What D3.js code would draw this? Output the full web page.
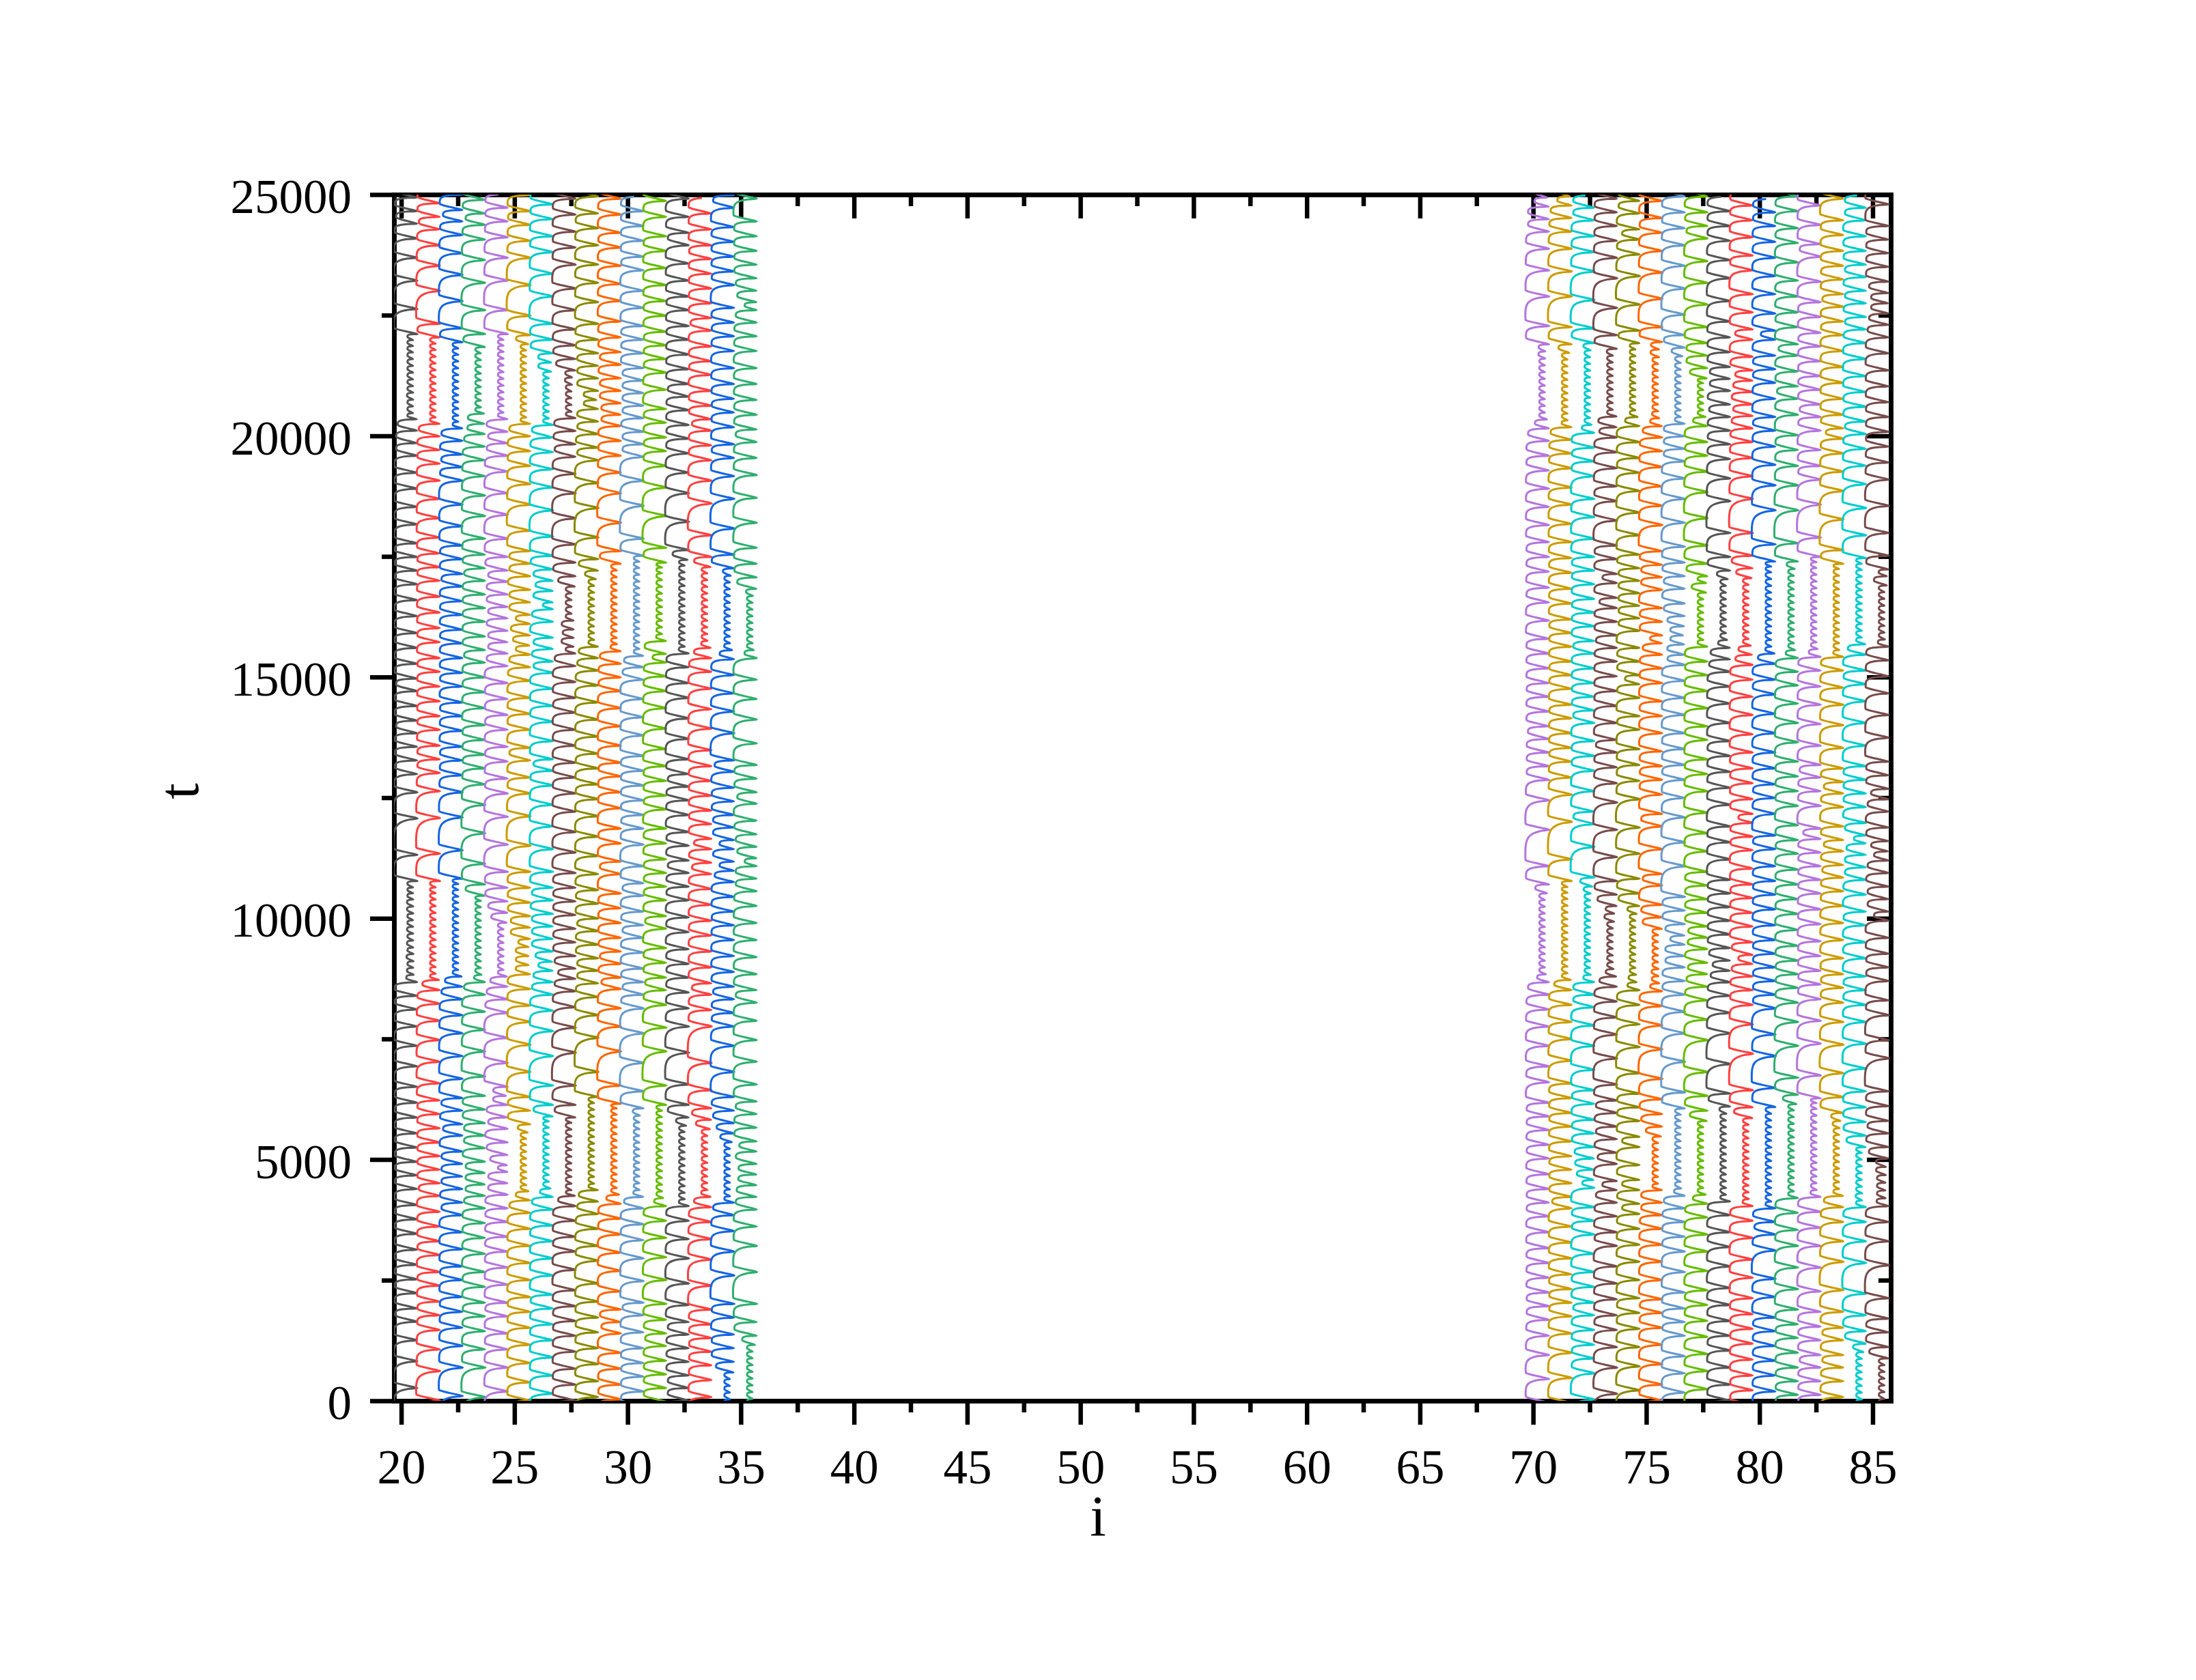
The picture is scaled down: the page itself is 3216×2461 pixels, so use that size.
<!DOCTYPE html>
<html>
<head>
<meta charset="utf-8">
<script src="https://cdnjs.cloudflare.com/ajax/libs/d3/7.8.5/d3.min.js"></script>
<style>
  html, body { margin: 0; background: #fff; }
  text { font-family: "Liberation Serif", serif; fill: #000; }
</style>
</head>
<body>
<script>
// x tick labels and y tick labels
var xTicks = [20,25,30,35,40,45,50,55,60,65,70,75,80,85];
var xMinor = [22.5,27.5,32.5,37.5,42.5,47.5,52.5,57.5,62.5,67.5,72.5,77.5,82.5];
var yTicks = [0,5000,10000,15000,20000,25000];
var yMinor = [2500,7500,12500,17500,22500];

var lineIds = [20,21,22,23,24,25,26,27,28,29,30,31,32,33,34,35,70,71,72,73,74,75,76,77,78,79,80,81,82,83,84,85];
var lineColors = ["#555555","#ff4040","#1565e0","#2fae6f","#b375dd","#cc9b00","#00cccc","#774b4b","#8a8a00","#ff6600","#6699cc","#66bb00","#555555","#ff4040","#1565e0","#2fae6f",
  "#b375dd","#cc9b00","#00cccc","#774b4b","#8a8a00","#ff6600","#6699cc","#66bb00","#555555","#ff4040","#1565e0","#2fae6f","#b375dd","#cc9b00","#00cccc","#774b4b"];

// t of every spike tip on each line (estimates)
var peaks20 = [265,821,1255,1641,1915,2231,2518,2820,3131,3461,3763,4060,4390,4673,4953,5250,5543,5873,6179,6509,6934,7358,7758,8111,8394,8677,8830,8975,9110,9260,9395,9540,9680,9825,9960,10100,10245,10390,10520,10640,10774,11316,12070,12612,12989,13272,13555,13837,14097,14403,14709,14969,15275,15605,15912,16265,16595,16925,17208,17491,17774,18165,18528,18905,19235,19588,19848,20107,20343,20470,20610,20750,20895,21030,21170,21310,21450,21590,21730,21860,21985,22110,22629,23218,23690,24090,24397,24656,24939];
var peaks21 = [6,618,1066,1467,1773,2056,2386,2669,3023,3306,3612,3918,4248,4508,4790,5071,5354,5647,5943,6226,6580,7028,7476,7876,8229,8511,8723,8850,8990,9130,9270,9410,9550,9690,9830,9970,10110,10250,10390,10520,10640,10774,11340,12080,12635,13012,13295,13578,13908,14191,14497,14804,15110,15393,15723,16015,16336,16666,16996,17279,17562,17891,18292,18693,19070,19423,19706,19989,20248,20380,20520,20660,20800,20940,21080,21220,21360,21500,21640,21780,21910,22040,22322,23006,23525,23949,24279,24538,24821];
var peaks22 = [100,689,1137,1514,1844,2151,2504,2787,3141,3494,3848,4107,4390,4649,4908,5166,5496,5731,6014,6274,6674,7146,7617,7993,8323,8582,8794,8930,9070,9200,9340,9480,9620,9760,9900,10040,10180,10320,10450,10590,10710,10821,11411,12093,12612,12965,13272,13555,13885,14191,14474,14804,15087,15393,15699,15982,16289,16572,16878,17137,17444,17727,18127,18575,19070,19350,19612,19895,20154,20290,20420,20560,20700,20840,20980,21120,21260,21400,21540,21680,21810,21940,22228,22794,23336,23784,24161,24444,24680,25000];
var peaks23 = [76,689,1066,1443,1750,2033,2363,2669,3046,3376,3683,3989,4248,4484,4720,4954,5236,5496,5755,6038,6321,6722,7240,7688,8064,8417,8677,8830,8970,9110,9250,9390,9530,9670,9810,9950,10090,10230,10360,10468,10703,11128,11764,12352,12777,13107,13390,13696,14002,14356,14686,14992,15299,15558,15841,16147,16430,16713,16996,17255,17538,17868,18339,18764,19164,19494,19777,20036,20250,20460,20590,20730,20870,21010,21150,21290,21430,21570,21710,21840,22110,22605,23171,23642,24067,24373,24609,24892];
var peaks24 = [194,689,1066,1396,1750,2033,2410,2763,3093,3400,3706,3989,4272,4508,4743,4883,5095,5354,5637,5873,6132,6321,6509,7005,7523,8040,8323,8582,8794,8930,9070,9210,9350,9490,9630,9770,9910,10114,10350,10633,10963,11528,12105,12588,12895,13248,13555,13908,14215,14545,14875,15228,15487,15723,15959,16218,16454,16713,16972,17208,17491,17868,18363,18811,19260,19588,19846,20083,20343,20480,20620,20760,20900,21040,21180,21320,21460,21600,21740,21870,21990,22110,22605,23218,23690,24114,24444,24727];
var peaks25 = [5,383,783,1161,1514,1844,2150,2504,2858,3211,3565,3895,4154,4343,4470,4610,4740,4880,5020,5160,5300,5430,5560,5731,6014,6297,6816,7381,7853,8190,8535,8841,9030,9218,9407,9572,9808,10044,10326,10633,10963,11505,12117,12588,12918,13272,13531,13908,14238,14568,14922,15204,15464,15653,15864,16100,16289,16548,16807,17090,17349,17609,18033,18575,19000,19376,19683,19989,20248,20380,20520,20660,20800,20940,21080,21220,21360,21500,21640,21770,21900,22087,22487,23124,23690,24043,24373,24656,24990];
var peaks26 = [147,524,901,1255,1585,1915,2198,2598,2952,3306,3635,3965,4225,4400,4540,4680,4820,4960,5100,5240,5380,5520,5660,5790,5896,6132,6533,7146,7664,8087,8417,8676,8912,9101,9313,9572,9831,10091,10373,10633,10963,11434,11906,12352,12753,13059,13295,13673,14073,14403,14757,15087,15322,15582,15817,16147,16406,16548,16784,16996,17232,17514,17915,18457,18929,19306,19660,19965,20225,20360,20500,20640,20780,20920,21050,21190,21330,21520,21710,21992,22322,22888,23360,23807,24137,24491,24797];
var peaks27 = [5,336,666,1019,1349,1655,1962,2292,2716,3093,3400,3730,4036,4248,4366,4500,4640,4780,4920,5060,5200,5340,5480,5620,5760,5873,6132,6533,7216,7735,8158,8488,8747,8959,9218,9501,9784,10067,10350,10633,10939,11363,11788,12211,12588,12918,13224,13578,13908,14262,14568,14898,15228,15487,15629,15814,15988,16172,16313,16454,16596,16737,16878,17090,17373,17750,18292,18811,19211,19565,19824,20100,20366,20500,20640,20780,20920,21060,21210,21356,21592,21875,22204,22605,23053,23548,23902,24232,24585,24915];
var peaks28 = [76,406,760,1090,1420,1726,2056,2433,2905,3211,3565,3871,4130,4366,4500,4640,4780,4920,5060,5190,5330,5470,5610,5750,5890,6030,6170,6297,6816,7523,7993,8370,8653,8912,9171,9454,9737,9996,10303,10586,10916,11293,11693,12117,12470,12777,13107,13413,13767,14120,14474,14827,15134,15393,15629,15770,15910,16050,16190,16330,16470,16610,16750,16890,17030,17208,17444,17892,18504,19023,19494,19753,20037,20295,20555,20743,20932,21191,21450,21710,21992,22322,22770,23171,23548,23949,24302,24609,24962];
var peaks29 = [30,336,666,995,1396,1632,1891,2268,2693,3070,3447,3777,4083,4272,4410,4550,4690,4830,4970,5110,5250,5390,5530,5670,5810,5930,6060,6156,6533,7240,7758,8134,8535,8771,9054,9313,9596,9902,10209,10515,10916,11175,11552,11858,12282,12612,12942,13224,13578,13979,14356,14709,14992,15275,15534,15680,15810,15950,16090,16230,16370,16510,16650,16790,16930,17070,17210,17349,17609,18198,18811,19235,19588,19895,20202,20437,20673,20932,21191,21474,21733,22040,22370,22794,23148,23525,23902,24208,24585,24915];
var peaks30 = [194,501,783,1090,1420,1773,2033,2481,2952,3329,3659,3989,4225,4370,4510,4650,4790,4930,5070,5210,5350,5490,5630,5770,5910,6061,6415,7004,7617,8134,8417,8676,8959,9289,9596,9855,10138,10468,10727,11081,11528,11858,12141,12447,12753,13059,13366,13790,14167,14545,14945,15204,15440,15580,15720,15860,16000,16140,16280,16420,16560,16700,16840,16980,17120,17260,17390,17514,17868,18551,19070,19565,19824,20083,20366,20625,20885,21144,21403,21710,21992,22276,22652,23006,23430,23713,24043,24349,24656];
var peaks31 = [265,548,831,1137,1396,1679,2009,2504,2975,3376,3730,4036,4201,4340,4480,4620,4760,4900,5040,5180,5320,5460,5600,5740,5880,6010,6132,6533,7240,7735,8205,8511,8771,9077,9384,9784,10044,10373,10656,10939,11222,11552,11858,12258,12541,12847,13154,13507,13932,14356,14709,15016,15299,15480,15747,15890,16030,16170,16310,16450,16590,16730,16870,17010,17150,17270,17373,17679,18339,18929,19376,19683,19965,20272,20555,20955,21309,21592,21875,22157,22487,22794,23124,23477,23831,24137,24538,24868];
var peaks32 = [5,265,524,807,1090,1373,1632,1986,2433,2952,3353,3730,4036,4178,4310,4450,4590,4730,4870,5010,5150,5290,5430,5570,5700,5873,6132,6556,7216,7758,8134,8464,8771,9054,9360,9714,10020,10373,10656,10939,11198,11505,11788,12141,12447,12729,12989,13295,13720,14144,14568,14875,15204,15487,15630,15770,15910,16050,16190,16330,16470,16610,16750,16890,17030,17170,17310,17430,17632,18221,18811,19235,19635,19942,20225,20531,20814,21073,21380,21686,21992,22276,22605,22888,23218,23572,23949,24208,24538,24915];
var peaks33 = [76,430,736,1019,1302,1585,1891,2386,2928,3353,3706,4013,4225,4370,4510,4650,4790,4930,5070,5210,5350,5490,5630,5826,6061,6438,7004,7758,8100,8417,8653,8983,9313,9643,9949,10279,10609,10916,11151,11434,11646,11953,12234,12541,12847,13154,13484,13932,14333,14757,15110,15393,15605,15750,15890,16030,16170,16310,16450,16590,16730,16870,17010,17150,17280,17491,17939,18599,19070,19494,19801,20107,20343,20625,20932,21262,21545,21851,22181,22440,22747,23053,23360,23666,23949,24279,24609];
var peaks34 = [30,170,310,450,590,807,1090,1373,1726,2009,2598,3093,3518,3848,4107,4240,4380,4520,4660,4800,4940,5080,5220,5360,5543,5755,6014,6297,6816,7358,7758,8040,8323,8582,8888,9218,9549,9855,10138,10444,10751,10986,11175,11434,11623,11882,12141,12423,12706,13036,13272,13837,14285,14662,15040,15370,15558,15700,15840,15980,16120,16260,16400,16540,16680,16820,16960,17100,17255,17538,18080,18693,19164,19541,19824,20178,20484,20767,21073,21403,21757,22063,22346,22652,23124,23407,23713,24020,24326,24727,24986];
var peaks35 = [40,180,320,460,600,740,880,1020,1160,1349,1632,2009,2669,3211,3612,3965,4225,4470,4690,4908,5166,5378,5661,5943,6203,6556,7028,7476,7876,8252,8511,8841,9195,9549,9902,10256,10562,10821,11081,11246,11481,11741,12023,12376,12612,12895,13178,13625,14120,14545,14945,15393,15560,15700,15840,15980,16120,16260,16400,16540,16680,16830,17066,17349,17679,18198,18716,19188,19541,19871,20131,20437,20743,21073,21403,21757,22063,22346,22605,22770,23006,23265,23548,23831,24137,24444,24915];
var peaks70 = [454,948,1349,1679,1962,2245,2551,2858,3164,3494,3824,4107,4390,4696,5023,5306,5612,5895,6178,6602,6932,7357,7757,8111,8417,8676,8840,8980,9120,9260,9400,9540,9680,9820,9960,10100,10240,10380,10520,10703,11081,11835,12447,12871,13154,13437,13718,13979,14285,14592,14875,15181,15487,15794,16171,16548,16854,17184,17491,17797,18151,18528,18905,19282,19588,19895,20154,20340,20480,20620,20760,20900,21040,21180,21320,21460,21600,21750,21898,22275,22888,23430,23878,24232,24491,24750,24939];
var peaks71 = [477,996,1396,1750,2033,2316,2622,2952,3282,3612,3989,4225,4508,4790,5070,5376,5683,5966,6273,6579,7050,7498,7851,8205,8511,8723,8860,9000,9140,9280,9420,9560,9700,9840,9980,10120,10260,10400,10530,10650,10774,11222,12000,12565,12918,13248,13531,13836,14144,14426,14757,15040,15322,15629,15912,16194,16524,16831,17161,17467,17797,18174,18575,18929,19329,19635,19918,20178,20320,20460,20600,20740,20880,21020,21160,21300,21440,21580,21720,21898,22252,22888,23407,23878,24232,24514,24774,24962];
var peaks72 = [29,571,878,1161,1467,1773,2033,2363,2669,3046,3447,3730,4013,4413,4578,4790,5020,5259,5542,5825,6155,6437,6861,7357,7781,8158,8417,8676,8830,8970,9110,9250,9390,9530,9670,9810,9950,10090,10230,10370,10510,10660,10845,11481,11953,12211,12635,13059,13366,13673,14049,14309,14592,14875,15181,15487,15747,16053,16336,16619,16925,17208,17491,17868,18316,18693,19164,19471,19753,20060,20230,20370,20510,20650,20790,20930,21070,21210,21350,21490,21630,21770,21922,22228,22817,23407,23807,24137,24467,24727];
var peaks73 = [147,689,1113,1467,1773,2103,2433,2787,3211,3494,3824,4107,4366,4555,4908,5141,5424,5683,5966,6225,6555,7097,7592,7946,8276,8582,8794,8950,9090,9230,9370,9510,9650,9790,9930,10100,10256,10491,10774,11269,11835,12400,12800,13130,13437,13696,14049,14403,14709,15016,15322,15605,15864,16147,16430,16642,16949,17137,17444,17726,18245,18646,18952,19329,19659,19965,20178,20400,20540,20680,20820,20960,21100,21240,21380,21520,21660,21804,22087,22652,23265,23690,24043,24349,24632,24915];
var peaks74 = [218,713,1113,1491,1821,2127,2504,2881,3235,3565,3871,4083,4366,4578,4885,5259,5471,5801,6084,6366,6791,7333,7804,8205,8511,8676,8830,8970,9110,9250,9390,9530,9670,9810,9950,10090,10256,10515,10821,11340,11882,12470,12848,13178,13507,13908,14191,14568,14851,15040,15322,15605,15959,16218,16477,16737,16996,17255,17538,17939,18410,18858,19235,19541,19871,20202,20390,20530,20670,20810,20950,21090,21230,21370,21510,21650,21790,21920,22181,22723,23312,23760,24067,24279,24609,24868];
var peaks75 = [5,336,760,1161,1514,1821,2103,2504,2881,3235,3565,3848,4107,4366,4500,4640,4780,4920,5060,5200,5340,5480,5683,5942,6249,6673,7286,7780,8181,8488,8653,8800,8950,9090,9230,9370,9510,9650,9784,10020,10279,10680,10916,11434,11905,12164,12565,12871,13154,13460,13836,14191,14497,14875,15181,15463,15699,15864,16147,16430,16807,17067,17326,17609,18151,18551,18952,19353,19683,19965,20201,20366,20510,20650,20790,20930,21070,21210,21350,21490,21630,21790,21945,22252,22841,23383,23831,24208,24514,24868];
var peaks76 = [170,571,925,1349,1632,1915,2245,2669,3093,3400,3706,3989,4248,4400,4540,4680,4820,4960,5100,5240,5380,5520,5660,5800,5930,6060,6390,7026,7616,8064,8417,8700,8983,9218,9454,9643,9879,10161,10444,11081,11576,12093,12494,12871,13178,13507,13836,14215,14568,14922,15252,15463,15676,15864,16053,16265,16524,16831,17090,17373,17703,18198,18693,19117,19470,19730,19989,20248,20390,20530,20670,20810,20950,21090,21230,21370,21510,21650,21828,22087,22511,23053,23525,23949,24302,24632,24962];
var peaks77 = [241,618,972,1326,1656,1985,2292,2693,3093,3447,3800,4083,4272,4410,4550,4690,4830,4970,5110,5250,5390,5530,5670,5800,6013,6319,6814,7474,7899,8299,8582,8841,9077,9360,9600,9831,10114,10397,10680,10963,11387,11764,12187,12635,12989,13295,13696,13979,14356,14709,15040,15322,15629,15770,15910,16050,16190,16330,16470,16610,16750,16949,17090,17349,17726,18292,18834,19259,19588,19871,20202,20390,20530,20670,20810,20950,21090,21191,21403,21662,21922,22252,22723,23171,23619,24090,24349,24632,24962];
var peaks78 = [5,336,689,1043,1349,1655,1986,2339,2787,3188,3494,3848,4130,4270,4410,4550,4690,4830,4970,5110,5250,5390,5530,5670,5810,5950,6100,6367,6980,7616,8040,8394,8676,8912,9124,9383,9666,9949,10232,10515,10798,11222,11576,11905,12353,12706,13036,13366,13673,14049,14450,14804,15110,15369,15605,15770,15910,16050,16190,16330,16470,16610,16750,16890,17030,17208,17491,17986,18646,19117,19518,19824,20107,20390,20649,20932,21180,21427,21733,22040,22370,22794,23265,23642,24043,24349,24656];
var peaks79 = [218,524,854,1184,1491,1797,2127,2551,2928,3376,3730,4036,4180,4320,4460,4600,4740,4880,5020,5160,5300,5440,5580,5720,5860,6084,6437,7192,7804,8205,8511,8794,9054,9242,9501,9831,10114,10421,10703,11033,11411,11693,11976,12164,12471,12800,13107,13437,13813,14215,14592,14945,15252,15463,15650,15790,15930,16070,16210,16350,16490,16630,16770,16910,17050,17255,17514,17986,18693,19164,19541,19871,20154,20413,20649,20908,21144,21356,21639,21992,22205,22558,22935,23430,23737,24114,24467,24774];
var peaks80 = [194,524,830,1137,1443,1726,2151,2528,3117,3447,3706,3989,4130,4270,4410,4550,4690,4830,4970,5110,5250,5390,5530,5670,5810,5950,6090,6484,7144,7592,8134,8417,8700,8983,9266,9549,9855,10185,10491,10774,11081,11434,11717,12164,12494,12777,13107,13437,13836,14238,14639,14945,15275,15487,15630,15770,15910,16050,16190,16330,16470,16610,16750,16890,17030,17170,17290,17397,17750,18457,18976,19400,19777,20107,20390,20767,21097,21380,21662,21992,22181,22534,22935,23312,23690,24020,24349,24632];
var peaks81 = [123,406,689,996,1302,1585,1891,2316,2763,3211,3541,3895,4201,4340,4480,4620,4760,4900,5040,5180,5320,5460,5600,5740,5880,6020,6150,6343,6697,7357,7851,8252,8559,8841,9124,9431,9760,10091,10397,10703,11010,11340,11623,11929,12329,12635,12942,13248,13649,14049,14450,14827,15110,15393,15560,15700,15840,15980,16120,16260,16400,16540,16680,16820,16960,17100,17240,17397,17774,18457,18976,19376,19706,20013,20437,20767,21026,21333,21662,21898,22252,22558,22888,23218,23595,23996,24302,24656,24962];
var peaks82 = [123,406,689,948,1255,1538,1844,2268,2763,3211,3588,3918,4225,4370,4510,4650,4790,4930,5070,5210,5350,5490,5630,5770,5910,6050,6170,6272,6744,7404,7875,8323,8629,8912,9219,9525,9879,10185,10515,10798,11081,11363,11646,11858,12329,12635,12918,13178,13578,14026,14426,14804,15134,15417,15580,15720,15860,16000,16140,16280,16420,16560,16700,16840,16980,17120,17260,17380,17491,17891,18575,19094,19376,19706,20107,20390,20649,20955,21238,21545,21851,22134,22464,22770,23195,23713,23972,24373,24774];
var peaks83 = [76,406,689,948,1255,1514,1844,2292,2881,3306,3706,4013,4248,4390,4530,4670,4810,4950,5090,5230,5370,5510,5650,5800,5966,6296,6791,7380,7851,8252,8559,8841,9171,9549,9902,10256,10562,10845,11104,11387,11623,11905,12305,12588,12824,13107,13531,14002,14426,14780,15134,15417,15560,15700,15840,15980,16120,16260,16400,16540,16680,16820,16960,17100,17240,17349,17632,18269,18858,19259,19636,19942,20154,20437,20767,21097,21427,21757,22087,22370,22676,22935,23242,23524,23831,24161,24467,24915];
var peaks84 = [30,170,310,450,590,730,870,1010,1184,1443,1773,2221,2858,3306,3706,4013,4154,4300,4440,4580,4720,4860,5000,5140,5259,5495,5777,6084,6414,6885,7404,7851,8205,8511,8794,9171,9501,9855,10138,10491,10798,11057,11316,11552,11717,11976,12305,12588,12871,13154,13578,14049,14497,14851,15134,15463,15680,15820,15960,16100,16240,16380,16520,16660,16800,16940,17080,17220,17350,17467,17939,18504,18999,19380,19730,20036,20295,20602,20908,21238,21592,21922,22205,22464,22747,23006,23289,23548,23831,24137,24467,24727];
var peaks85 = [40,180,320,460,600,740,880,1113,1420,1703,2127,2811,3306,3706,4036,4200,4360,4520,4680,4850,5020,5259,5541,5801,6108,6414,7097,7474,7993,8299,8700,8983,9266,9596,9949,10138,10397,10656,10939,11198,11387,11599,11882,12211,12470,12683,12965,13248,13743,14215,14662,15016,15346,15629,15780,15920,16060,16200,16340,16480,16620,16760,16900,17090,17232,17514,17986,18551,19094,19447,19777,20083,20390,20696,21026,21356,21710,22040,22299,22535,22747,22959,23195,23501,23784,24067,24349,24797];

var peakTimes = [peaks20,peaks21,peaks22,peaks23,peaks24,peaks25,peaks26,peaks27,peaks28,peaks29,peaks30,peaks31,peaks32,peaks33,peaks34,peaks35,
  peaks70,peaks71,peaks72,peaks73,peaks74,peaks75,peaks76,peaks77,peaks78,peaks79,peaks80,peaks81,peaks82,peaks83,peaks84,peaks85];

// how far a cycle swings, against the length of the cycle
var cycleLens = [140,180,220,280,350,600];
var cycleTips = [0.52,0.60,0.68,0.70,0.70,0.72];
var cycleLows = [0.28,0.12,-0.10,-0.27,-0.30,-0.33];

// the one cycle shape: fall from tip to low, then the climb
var fallPhase = [0,0.35,0.7,0.9,1];
var fallLevel = [1,0.62,0.22,0.05,0];
var risePhase = [0,0.1,0.45,0.62,0.76,0.87,0.95,1];
var riseLevel = [0,-0.01,0,0.04,0.13,0.3,0.58,1];

var width = 3216, height = 2461;
var x = d3.scaleLinear().domain([19.68,85.8]).range([577,2769]);
var y = d3.scaleLinear().domain([0,25000]).range([2052,285]);
var tipOf = d3.scaleLinear().domain(cycleLens).range(cycleTips).clamp(true);
var lowOf = d3.scaleLinear().domain(cycleLens).range(cycleLows).clamp(true);

var svg = d3.select("body").append("svg").attr("width",width).attr("height",height).style("display","block");

svg.append("defs").append("clipPath").attr("id","frame").append("rect")
  .attr("x",577).attr("y",285).attr("width",2769-577).attr("height",2052-285);

function addAxis(axis, tx, ty, cls){
  var g = svg.append("g").attr("class",cls).attr("transform","translate("+tx+","+ty+")").call(axis);
  g.selectAll("line").attr("stroke","#000").attr("stroke-width",6.5);
  g.select(".domain").attr("stroke","#000").attr("stroke-width",6.5).attr("stroke-linecap","square");
  return g;
}

// minor ticks first, major ticks with the labels after
addAxis(d3.axisBottom(x).tickValues(xMinor).tickSize(17).tickSizeOuter(0).tickFormat(""),0,2052,"xm");
addAxis(d3.axisTop(x).tickValues(xMinor).tickSize(-17).tickSizeOuter(0).tickFormat(""),0,285,"xtm");
addAxis(d3.axisTop(x).tickValues(xTicks).tickSize(-35).tickSizeOuter(0).tickFormat(""),0,285,"xt");
addAxis(d3.axisLeft(y).tickValues(yMinor).tickSize(18).tickSizeOuter(0).tickFormat(""),577,0,"ym");
addAxis(d3.axisRight(y).tickValues(yMinor).tickSize(-18).tickSizeOuter(0).tickFormat(""),2769,0,"yrm");
addAxis(d3.axisRight(y).tickValues(yTicks).tickSize(-35).tickSizeOuter(0).tickFormat(""),2769,0,"yr");

var xAxisG = addAxis(d3.axisBottom(x).tickValues(xTicks).tickSize(35).tickSizeOuter(0).tickPadding(36).tickFormat(d3.format("d")),0,2052,"xAxisG");
var yAxisG = addAxis(d3.axisLeft(y).tickValues(yTicks).tickSize(35).tickSizeOuter(0).tickPadding(27).tickFormat(d3.format("d")),577,0,"yAxisG");
xAxisG.selectAll("text").style("font-size","71px").style("font-family","Liberation Serif").attr("fill","#000");
yAxisG.selectAll("text").style("font-size","71px").style("font-family","Liberation Serif").attr("fill","#000").attr("dy","0.376em");

svg.append("text").attr("x",1608).attr("y",2250).attr("text-anchor","middle").style("font-size","85px").text("i");
svg.append("text").attr("transform","translate(290,1159) rotate(-90)").attr("text-anchor","middle").style("font-size","85px").text("t");

// one polyline per lattice site: cycle shape placed between neighbouring tips
function cyclePoints(peaks){
  var pk = peaks.slice().sort(d3.ascending);
  pk = [pk[0]-(pk[1]-pk[0])].concat(pk,[pk[pk.length-1]+(pk[pk.length-1]-pk[pk.length-2])]);
  var pts = [];
  for (var k=0;k<pk.length-1;k++){
    var len = pk[k+1]-pk[k];
    var prev = k>0 ? pk[k]-pk[k-1] : len;
    var next = k<pk.length-2 ? pk[k+2]-pk[k+1] : len;
    var low = lowOf(len);
    var tipA = Math.max(tipOf(prev),tipOf(len));
    var tipB = Math.max(tipOf(len),tipOf(next));
    var fall = Math.min(125,0.48*len);
    fallPhase.forEach(function(p,j){
      pts.push({t:pk[k]+p*fall, off:low+fallLevel[j]*(tipA-low)});
    });
    risePhase.forEach(function(p,j){
      if (j>0 && j<risePhase.length-1) pts.push({t:pk[k]+fall+p*(len-fall), off:low+riseLevel[j]*(tipB-low)});
    });
  }
  return pts;
}

var plotG = svg.append("g").attr("clip-path","url(#frame)");
lineIds.forEach(function(id,n){
  var line = d3.line().x(function(d){return x(id+d.off);}).y(function(d){return y(d.t);}).curve(d3.curveCatmullRom.alpha(0.5));
  plotG.append("path")
    .datum(cyclePoints(peakTimes[n]))
    .attr("d",line)
    .attr("fill","none")
    .attr("stroke",lineColors[n])
    .attr("stroke-width",3)
    .attr("stroke-linejoin","round");
});
</script>
</body>
</html>
